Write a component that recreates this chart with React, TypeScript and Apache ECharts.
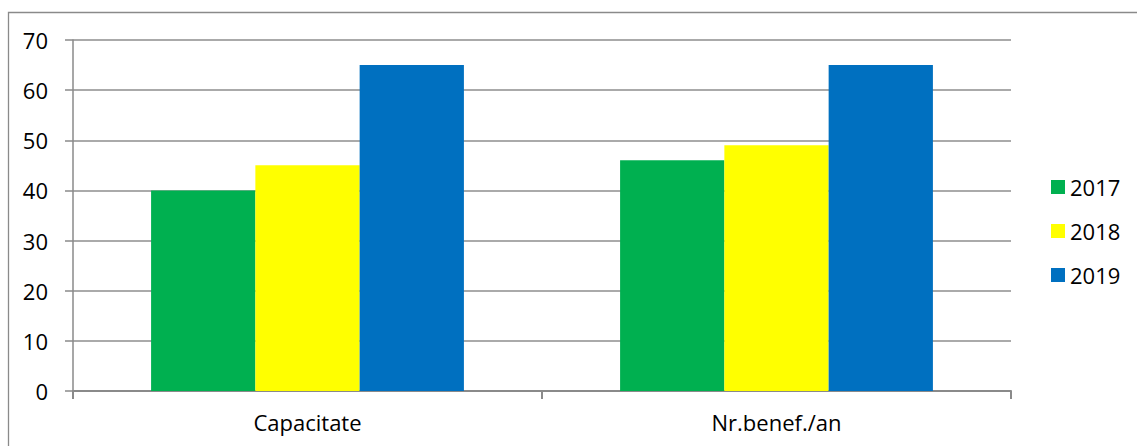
import React, { useEffect, useRef } from "react";
import * as echarts from "echarts";

const categories = ["Capacitate", "Nr.benef./an"];
const years = ["2017", "2018", "2019"];
const values2017 = [40, 46];
const values2018 = [45, 49];
const values2019 = [65, 65];
const colors = ["#00B050", "#FFFF00", "#0070C0"];
const yTicks = { min: 0, max: 70, interval: 10 };

const FONT = "'Open Sans', sans-serif";

export default function App() {
  const ref = useRef<HTMLDivElement>(null);
  useEffect(() => {
    document.body.style.margin = "0";
    const chart = echarts.init(ref.current!, null, { renderer: "svg" });
    const seriesData = [values2017, values2018, values2019];
    chart.setOption({
      animation: false,
      backgroundColor: "#ffffff",
      textStyle: { fontFamily: FONT },
      graphic: [
        {
          type: "rect",
          silent: true,
          z: -10,
          shape: { x: 8.5, y: 12.5, width: 1300, height: 600 },
          style: { fill: "none", stroke: "#8a8a8a", lineWidth: 1.3 },
        },
      ],
      grid: { left: 73, right: 126, top: 40, bottom: 55, containLabel: false },
      legend: {
        orient: "vertical",
        left: 1051,
        top: 176,
        padding: 0,
        itemWidth: 14,
        itemHeight: 14,
        itemGap: 22,
        icon: "rect",
        textStyle: { fontSize: 22, color: "#000", fontFamily: FONT, padding: [0, 0, 0, 0] },
        data: years,
      },
      xAxis: {
        type: "category",
        data: categories,
        axisLine: { show: true, lineStyle: { color: "#8a8a8a", width: 2 } },
        axisTick: { show: true, length: 8, alignWithLabel: false, lineStyle: { color: "#8a8a8a", width: 2 } },
        axisLabel: { fontSize: 22, color: "#000", margin: 20, fontFamily: FONT },
        splitLine: { show: false },
      },
      yAxis: {
        type: "value",
        min: yTicks.min,
        max: yTicks.max,
        interval: yTicks.interval,
        axisLine: { show: true, lineStyle: { color: "#8a8a8a", width: 1.5 } },
        axisTick: { show: true, inside: false, length: 8, lineStyle: { color: "#8a8a8a", width: 1.5 } },
        axisLabel: { fontSize: 22, color: "#000", margin: 25, fontFamily: FONT },
        splitLine: { show: true, lineStyle: { color: "#8e8e8e", width: 1.5 } },
      },
      series: years.map((y, i) => ({
        name: y,
        type: "bar",
        data: seriesData[i],
        itemStyle: { color: colors[i] },
        barGap: "0%",
        barCategoryGap: "33.3%",
      })),
    });
    return () => chart.dispose();
  }, []);
  return <div ref={ref} style={{ width: 1137, height: 446, overflow: "hidden" }} />;
}
